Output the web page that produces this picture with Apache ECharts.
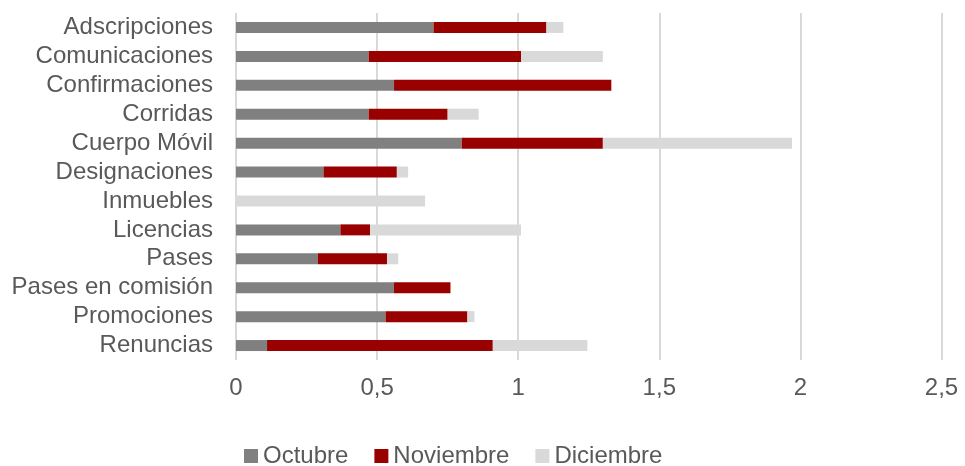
<!DOCTYPE html>
<html>
<head>
<meta charset="utf-8">
<script src="https://cdn.jsdelivr.net/npm/echarts@6/dist/echarts.min.js"></script>
<style>
    html, body { margin: 0; padding: 0; background: #fff; }
    #chart_main { width: 965px; height: 466px; }
</style>
</head>
<body>
<div id="chart_main"></div>
<script>
var categorias = ['Adscripciones', 'Comunicaciones', 'Confirmaciones', 'Corridas', 'Cuerpo Móvil', 'Designaciones',
    'Inmuebles', 'Licencias', 'Pases', 'Pases en comisión', 'Promociones', 'Renuncias'];
var octubre = [0.70, 0.47, 0.56, 0.47, 0.80, 0.31, 0, 0.37, 0.29, 0.56, 0.53, 0.11];
var noviembre = [0.40, 0.54, 0.77, 0.28, 0.50, 0.26, 0, 0.105, 0.245, 0.20, 0.29, 0.80];
var diciembre = [0.06, 0.29, 0, 0.11, 0.67, 0.04, 0.67, 0.535, 0.04, 0, 0.025, 0.335];
var ticksX = [0, 0.5, 1, 1.5, 2, 2.5];

var chart_main;

var textColor = '#595959';
var fontName = 'Liberation Sans';

function serie(nombre, datos, color) {
    return {
        name: nombre,
        type: 'bar',
        stack: 'total',
        barWidth: 11,
        itemStyle: { color: color },
        data: datos
    };
}

var option_main = {
    animation: false,
    textStyle: { fontFamily: fontName },
    grid: {
        left: 236,
        right: 23.5,
        top: 13,
        bottom: 106,
        containLabel: false
    },
    legend: {
        left: 239,
        top: 439,
        icon: 'rect',
        itemWidth: 14,
        itemHeight: 14,
        itemGap: 26,
        textStyle: { color: textColor, fontSize: 24, fontFamily: fontName },
        data: ['Octubre', 'Noviembre', 'Diciembre']
    },
    xAxis: {
        type: 'value',
        min: ticksX[0],
        max: ticksX[ticksX.length - 1],
        interval: 0.5,
        axisLine: { show: false },
        axisTick: { show: false },
        axisLabel: {
            color: textColor,
            fontSize: 24,
            fontFamily: fontName,
            margin: 16,
            formatter: function (v) { return String(v).replace('.', ','); }
        },
        splitLine: { show: true, lineStyle: { color: '#D9D9D9', width: 2 } }
    },
    yAxis: {
        type: 'category',
        inverse: true,
        data: categorias,
        axisLine: { show: false },
        axisTick: { show: false },
        axisLabel: { color: textColor, fontSize: 24, fontFamily: fontName, margin: 23, interval: 0 }
    },
    series: [
        serie('Octubre', octubre, '#808080'),
        serie('Noviembre', noviembre, '#990000'),
        serie('Diciembre', diciembre, '#D9D9D9')
    ]
};

chart_main = echarts.init(document.getElementById('chart_main'));
chart_main.setOption(option_main);
</script>
</body>
</html>
